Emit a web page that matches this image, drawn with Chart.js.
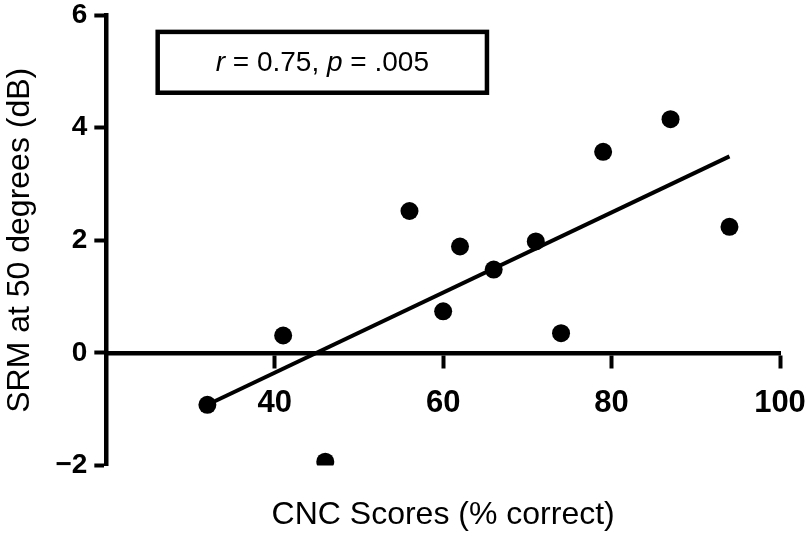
<!DOCTYPE html>
<html lang="en">
<head>
  <meta charset="UTF-8">
  <title>SRM vs CNC</title>
  <script src="https://cdn.jsdelivr.net/npm/chart.js"></script>
  <style>
    html, body { margin: 0; padding: 0; background: #fff; }
    .chart-container { width: 808px; height: 536px; }
  </style>
</head>
<body>
<div class="chart-container">
  <canvas id="srmChart"></canvas>
</div>

<script>
  // data
  const cncScores = [32, 41, 46, 56, 60, 62, 66, 71, 74, 79, 87, 94];
  const srmValues = [-0.92, 0.31, -1.93, 2.52, 0.74, 1.89, 1.48, 1.98, 0.35, 3.57, 4.15, 2.24];
  const fitX = [32, 94];
  const fitY = [-0.92, 3.49];
  const xTicks = [40, 60, 80, 100];
  const yTicks = [-2, 0, 2, 4, 6];
  const statText = [['r', true], [' = 0.75, ', false], ['p', true], [' = .005', false]];

  const FONT = '"Liberation Sans", Arial, Helvetica, sans-serif';

  // box with the r / p values
  const statBox = {
    id: 'statBox',
    afterDraw(chart) {
      const { ctx, scales: { x, y } } = chart;
      const left = x.getPixelForValue(26.1);
      const right = x.getPixelForValue(65.2);
      const top = y.getPixelForValue(5.7);
      const bottom = y.getPixelForValue(4.62);
      ctx.save();
      ctx.lineWidth = 4.5;
      ctx.strokeStyle = '#000';
      ctx.strokeRect(left, top, right - left, bottom - top);

      ctx.fillStyle = '#000';
      ctx.textBaseline = 'middle';
      ctx.textAlign = 'left';
      const fontFor = it => (it ? 'italic ' : '') + '28px ' + FONT;
      let total = 0;
      statText.forEach(([t, it]) => { ctx.font = fontFor(it); total += ctx.measureText(t).width; });
      let cx = (left + right) / 2 - total / 2;
      const cy = (top + bottom) / 2 + 1;
      statText.forEach(([t, it]) => {
        ctx.font = fontFor(it);
        ctx.fillText(t, cx, cy);
        cx += ctx.measureText(t).width;
      });
      ctx.restore();
    }
  };

  const ctx = document.getElementById('srmChart').getContext('2d');
  new Chart(ctx, {
    type: 'scatter',
    data: {
      datasets: [{
        label: 'SRM',
        data: cncScores.map((v, i) => ({ x: v, y: srmValues[i] })),
        backgroundColor: '#000',
        borderWidth: 0,
        pointRadius: 9,
        clip: 0
      }, {
        label: 'fit',
        type: 'line',
        data: fitX.map((v, i) => ({ x: v, y: fitY[i] })),
        borderColor: '#000',
        borderWidth: 4,
        pointRadius: 0,
        fill: false
      }]
    },
    options: {
      responsive: true,
      maintainAspectRatio: false,
      animation: false,
      layout: { padding: { top: 15, right: 28, left: 0, bottom: 0 } },
      plugins: {
        legend: { display: false },
        tooltip: { enabled: false },
        title: {
          display: true,
          fullSize: false,
          position: 'bottom',
          text: 'CNC Scores (% correct)',
          color: '#000',
          font: { family: FONT, size: 32, weight: 'normal', lineHeight: 1.2 },
          padding: { top: 30, bottom: 2 }
        }
      },
      scales: {
        x: {
          type: 'linear',
          position: { y: 0 },
          min: 20,
          max: 100,
          afterBuildTicks: s => { s.ticks = xTicks.map(v => ({ value: v })); },
          afterFit: s => { s.height = 0; s.paddingLeft = 0; s.paddingRight = 0; },
          border: { color: '#000', width: 4.5 },
          grid: { drawOnChartArea: false, drawTicks: true, tickLength: 13, tickWidth: 4, tickColor: '#000' },
          ticks: {
            color: '#000',
            padding: 19,
            maxRotation: 0,
            font: { family: FONT, size: 31, weight: 'bold', lineHeight: 1.2 }
          }
        },
        y: {
          type: 'linear',
          min: -2,
          max: 6,
          afterBuildTicks: s => { s.ticks = yTicks.map(v => ({ value: v })); },
          afterFit: s => { s.paddingTop = 0; s.paddingBottom = 0; },
          border: { color: '#000', width: 4.5 },
          grid: { drawOnChartArea: false, drawTicks: true, tickLength: 12, tickWidth: 4, tickColor: '#000' },
          ticks: {
            color: '#000',
            padding: 7,
            font: { family: FONT, size: 28, weight: 'bold', lineHeight: 1 },
            callback: v => (v < 0 ? '\u2212' + Math.abs(v) : String(v))
          },
          title: {
            display: true,
            text: 'SRM at 50 degrees (dB)',
            color: '#000',
            font: { family: FONT, size: 32, weight: 'normal', lineHeight: 1.2 },
            padding: { top: 1, bottom: 9 }
          }
        }
      }
    },
    plugins: [statBox]
  });
</script>
</body>
</html>
